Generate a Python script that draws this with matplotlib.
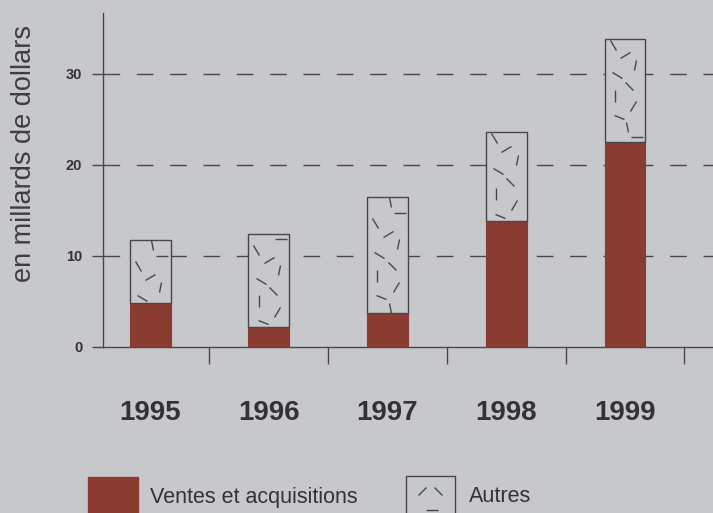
import matplotlib.pyplot as plt
from matplotlib.markers import MarkerStyle
from matplotlib.patches import Rectangle
from matplotlib.transforms import Affine2D

plt.rcParams['font.family'] = ['Liberation Sans', 'DejaVu Sans']
plt.rcParams['lines.scale_dashes'] = False

years = ['1995', '1996', '1997', '1998', '1999']
ventes = [4.8, 2.2, 3.7, 13.8, 22.5]
autres = [7.0, 10.2, 12.8, 9.8, 11.3]
yticks = [0, 10, 20, 30]

bg = '#c7c8cc'
red = '#8a3b32'
ink = '#48484a'

fig = plt.figure(figsize=(7.13, 5.13), dpi=100, facecolor=bg)
ax = fig.add_axes([103 / 713, 1 - 347 / 513, 1 - 103 / 713, (347 - 13) / 513])
ax.set_facecolor(bg)

x = list(range(len(years)))
w = 0.345
ax.bar(x, ventes, width=w, color=red, edgecolor=red, linewidth=0.8, zorder=3)
ax.bar(x, autres, bottom=ventes, width=w, color=bg, edgecolor=ink, linewidth=1.0, zorder=3)

# texture: little scattered strokes in the "Autres" part
fx = [0.3, 0.75, 0.5, 0.2, 0.8, 0.55, 0.35, 0.7, 0.25, 0.6]
ang = [-35, 80, 30, -60, 0, 100, -20, 55, 90, -45]
k = 0
for i in x:
    n = max(int(autres[i] / 1.1), 1)
    for j in range(n):
        px = i - w / 2 + fx[k % len(fx)] * w
        py = ventes[i] + (j + 0.5) / n * autres[i]
        ms = MarkerStyle('_', transform=Affine2D().rotate_deg(ang[k % len(ang)]))
        ax.plot(px, py, marker=ms, linestyle='none', markersize=8,
                markeredgewidth=1.0, color=ink, zorder=4)
        k += 1

ax.set_xlim(-0.396, 4.741)
ax.set_ylim(0, 36.7)

for yv in yticks[1:]:
    ax.axhline(yv, color=ink, linewidth=1.0, dashes=(12, 12), zorder=1)

for s in ['top', 'right']:
    ax.spines[s].set_visible(False)
for s in ['left', 'bottom']:
    ax.spines[s].set_color(ink)
    ax.spines[s].set_linewidth(1.0)

ax.set_yticks(yticks)
ax.set_yticklabels([str(v) for v in yticks], fontsize=10.5, fontweight='bold', color='#333335')
ax.tick_params(axis='y', length=8, width=1.0, color=ink, pad=7)

ax.set_xticks([i + 0.5 for i in x])
ax.set_xticklabels([])
ax.tick_params(axis='x', length=12, width=1.0, color=ink, direction='out')

for i, yr in enumerate(years):
    ax.text(i, -7.3, yr, ha='center', va='center', fontsize=20, fontweight='bold',
            color='#333335', clip_on=False)

fig.text(24 / 713, 1 - 154 / 513, 'en millards de dollars', rotation=90,
         ha='center', va='center', fontsize=19.5, color='#3e3e40')

# legend at the bottom (cut by the frame)
fig.add_artist(Rectangle((88 / 713, 0), 50 / 713, (513 - 477) / 513,
                         transform=fig.transFigure, facecolor=red, edgecolor=red))
fig.text(150 / 713, 1 - 497 / 513, 'Ventes et acquisitions', ha='left', va='center',
         fontsize=15.5, color='#333335')
fig.add_artist(Rectangle((406 / 713, -0.01), 49 / 713, (513 - 476) / 513 + 0.01,
                         transform=fig.transFigure, facecolor=bg, edgecolor=ink, linewidth=1.0))
for lx, ly, a in [(422, 491, 45), (438, 491, -45), (432, 510, 0)]:
    ms = MarkerStyle('_', transform=Affine2D().rotate_deg(a))
    fig.add_artist(plt.Line2D([lx / 713], [1 - ly / 513], marker=ms, linestyle='none',
                              markersize=8, markeredgewidth=1.0, color=ink,
                              transform=fig.transFigure))
fig.text(469 / 713, 1 - 497 / 513, 'Autres', ha='left', va='center',
         fontsize=15.5, color='#333335')

fig.savefig('out.png', dpi=100, facecolor=bg)
